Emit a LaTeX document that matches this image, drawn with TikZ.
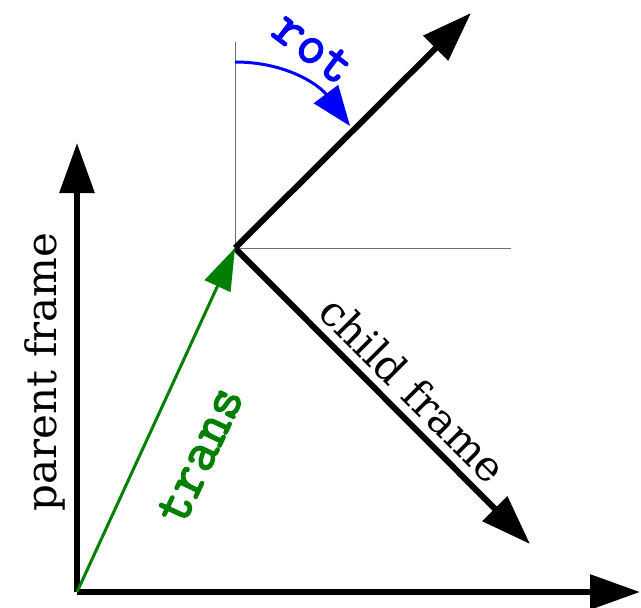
\documentclass[tikz,border=0pt]{standalone}
\usepackage{fontspec}
\setmainfont{DejaVu Serif}
\newfontfamily\codefont[FakeBold=2.5]{Latin Modern Mono}
\usepackage{tikz}
\usetikzlibrary{arrows.meta}
\definecolor{TrGreen}{RGB}{0,128,0}
\definecolor{RotBlue}{RGB}{0,0,255}
\definecolor{AxGray}{RGB}{110,110,110}

\begin{document}
\begin{tikzpicture}[x=0.5pt, y=0.5pt,
          axis/.style={line width=3pt, -{Triangle[length=25pt, width=17pt]}},
          guide/.style={draw=AxGray, line width=0.5pt},
          trarr/.style={draw=TrGreen, line width=1.5pt,
                        -{Triangle[length=21pt, width=14pt]}},
          rotarr/.style={draw=RotBlue, line width=1.5pt,
                         -{Triangle[length=20pt, width=15pt]}},
          lbl/.style={font=\fontsize{21}{24}\selectfont},
          code/.style={font=\codefont\fontsize{28}{30}\selectfont}
        ]
        \useasboundingbox (0,0) rectangle (641,607);

        % parent frame
        \coordinate (P)  at (77, 15);
        \coordinate (Px) at (640, 15);
        \coordinate (Py) at (77, 464);

        % child frame
        \coordinate (C)  at (235, 359);
        \coordinate (Cv) at (235, 565);
        \coordinate (Ch) at (511, 359);
        \coordinate (Cx) at (471, 594);
        \coordinate (Cy) at (530, 63);

        \coordinate (rotA) at (235, 545);
        \coordinate (rotB) at (350, 481);

        \draw[guide] (C) -- (Cv);
        \draw[guide] (C) -- (Ch);

        \draw[axis] (P) -- (Py);
        \draw[axis] (P) -- (Px);
        \draw[axis] (C) -- (Cx);
        \draw[axis] (C) -- (Cy);

        \draw[trarr] (P) -- (C);
        \draw[rotarr] (rotA) to[out=0, in=127] (rotB);

        \node[lbl, rotate=90] (plbl) at (45, 235) {parent frame};
        \node[lbl, rotate=-45] (clbl) at (413, 218) {child frame};
        \node[code, text=TrGreen, rotate=65] (tlbl) at (200, 152) {trans};
        \node[code, text=RotBlue, rotate=-37] (rlbl) at (313, 559) {rot};
      \end{tikzpicture}
\end{document}
